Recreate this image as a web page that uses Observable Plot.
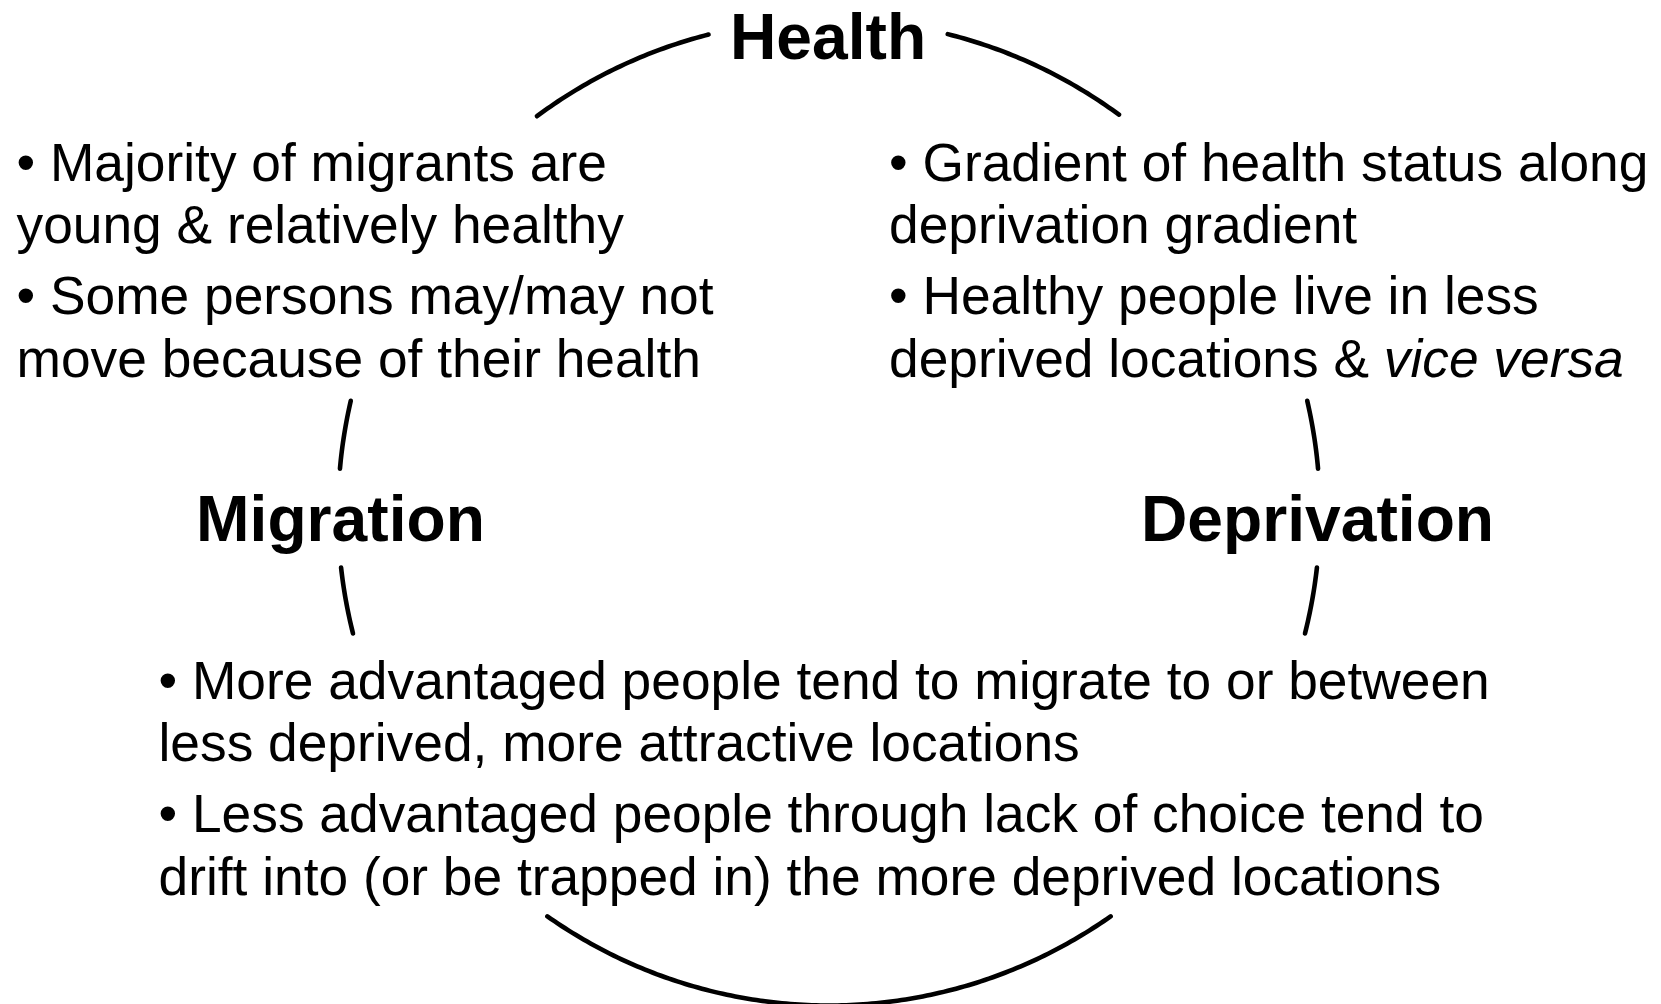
<!DOCTYPE html>
<html>
<head>
<meta charset="utf-8">
<script src="https://cdn.jsdelivr.net/npm/d3@7"></script>
<script src="https://cdn.jsdelivr.net/npm/@observablehq/plot@0.6"></script>
<style>
  html, body { margin: 0; padding: 0; background: #fff; overflow: hidden; }
</style>
</head>
<body>
<div id="chart"></div>
<script>
// ---------- Data (content) ----------
const nodeLabels = ["Health", "Migration", "Deprivation"];

const healthMigrationLines = [
  "• Majority of migrants are",
  "young & relatively healthy",
  "• Some persons may/may not",
  "move because of their health"
];

const healthDeprivationLines = [
  "• Gradient of health status along",
  "deprivation gradient",
  "• Healthy people live in less",
  "deprived locations & "
];
const healthDeprivationItalic = "vice versa";

const migrationDeprivationLines = [
  "• More advantaged people tend to migrate to or between",
  "less deprived, more attractive locations",
  "• Less advantaged people through lack of choice tend to",
  "drift into (or be trapped in) the more deprived locations"
];

// Arc segments of the cycle (angles in degrees, counter-clockwise from east)
const arcNames = ["top-left", "top-right", "left-upper", "left-lower", "right-upper", "right-lower", "bottom"];
const arcStartDeg = [104.2, 53.8, 166.9, 186.4, 5.1, -14.2, 235];
const arcEndDeg   = [126.5, 76.0, 174.9, 194.2, 13.1, -6.4, 305];

// ---------- Layout ----------
const W = 1661, H = 1004;
const CX = 828.5, CY = 512, RX = 491, RY = 493;
const FONT = "'Liberation Sans', Arial, Helvetica, sans-serif";
const HEAD_SIZE = 64.2, BODY_SIZE = 53.3;
const nodeX = [827.5, 340, 1317];
const nodeY = [58, 540, 540];
const blockX = [16, 888.5, 158];
const topLineY = [180, 242.5, 313, 376];
const bottomLineY = [698, 760.5, 831, 894];

// ---------- Build tables ----------
const arcPoints = [];
arcNames.forEach((name, i) => {
  const a0 = arcStartDeg[i], a1 = arcEndDeg[i];
  const n = Math.max(2, Math.ceil(Math.abs(a1 - a0) / 0.5));
  for (let k = 0; k <= n; k++) {
    const t = (a0 + (a1 - a0) * k / n) * Math.PI / 180;
    arcPoints.push({arc: name, x: CX + RX * Math.cos(t), y: CY - RY * Math.sin(t)});
  }
});

const nodes = nodeLabels.map((label, i) => ({label, x: nodeX[i], y: nodeY[i]}));

const bodyRows = [];
healthMigrationLines.forEach((t, i) => bodyRows.push({text: t, x: blockX[0], y: topLineY[i]}));
healthDeprivationLines.forEach((t, i) => bodyRows.push({text: t, x: blockX[1], y: topLineY[i]}));
migrationDeprivationLines.forEach((t, i) => bodyRows.push({text: t, x: blockX[2], y: bottomLineY[i]}));

// Italic run follows the last line of the right block
const ctx = document.createElement("canvas").getContext("2d");
ctx.font = `${BODY_SIZE}px ${FONT}`;
const lead = healthDeprivationLines[healthDeprivationLines.length - 1];
const italicRows = [{
  text: healthDeprivationItalic,
  x: blockX[1] + ctx.measureText(lead).width,
  y: topLineY[topLineY.length - 1]
}];

// ---------- Plot ----------
const chart = Plot.plot({
  width: W,
  height: H,
  margin: 0,
  style: {fontFamily: FONT, background: "#fff", color: "#000"},
  x: {domain: [0, W], range: [0, W], axis: null},
  y: {domain: [0, H], range: [0, H], axis: null},
  marks: [
    Plot.line(arcPoints, {x: "x", y: "y", z: "arc", stroke: "#000", strokeWidth: 4.6, curve: "linear"}),
    Plot.text(nodes, {x: "x", y: "y", text: "label", fontSize: HEAD_SIZE, fontWeight: "bold",
      textAnchor: "middle", lineAnchor: "bottom", fill: "#000"}),
    Plot.text(bodyRows, {x: "x", y: "y", text: "text", fontSize: BODY_SIZE,
      textAnchor: "start", lineAnchor: "bottom", fill: "#000"}),
    Plot.text(italicRows, {x: "x", y: "y", text: "text", fontSize: BODY_SIZE, fontStyle: "italic",
      textAnchor: "start", lineAnchor: "bottom", fill: "#000"})
  ]
});
document.getElementById("chart").appendChild(chart);
</script>
</body>
</html>
